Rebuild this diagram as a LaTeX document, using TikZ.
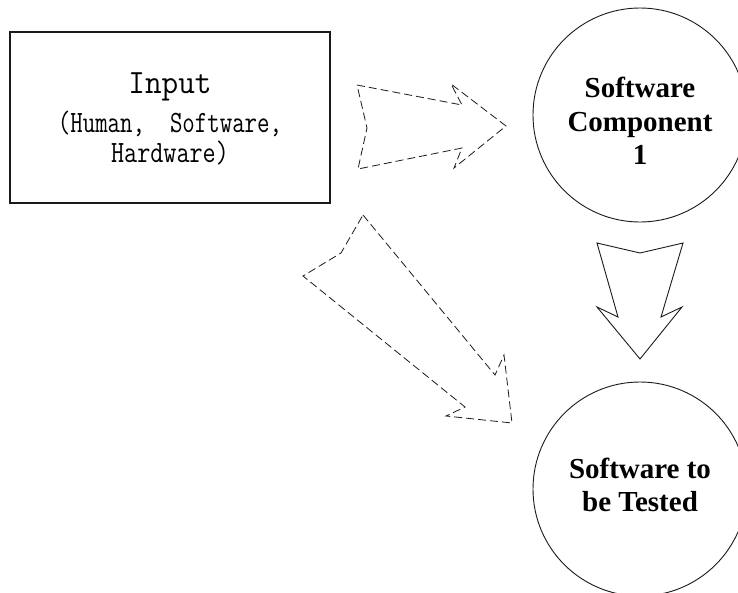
\documentclass[tikz,border=0pt]{standalone}
\usepackage{graphicx}
\usepackage{fontspec}
\setmainfont{Liberation Serif}
\definecolor{mInk}{HTML}{1A1A1A}
\usetikzlibrary{positioning}
\newcommand{\compnode}[4]{%
 \node[draw=mInk, circle, line width=0.9pt, minimum size=214pt, inner sep=0pt] (#2) at (#1) {};%
 \node[align=center, font=\fontsize{29}{33.5}\selectfont\bfseries, text=black] (#2label) at ([yshift=#4]#2.center) {#3};}

\begin{document}
\begin{tikzpicture}[x=1pt, y=-1pt,
 dasharrow/.style={draw=mInk, line width=0.8pt, dash pattern=on 8pt off 4pt, line join=miter},
 solidarrow/.style={draw=mInk, line width=0.9pt, line join=miter}]
\useasboundingbox (0,0) rectangle (738,592);
% input box
\node[draw=mInk, line width=1.2pt, minimum width=320pt, minimum height=171pt, inner sep=0pt] (input) at (170,117.5) {};
\node[anchor=base, inner sep=0pt, font=\ttfamily\fontsize{34}{34}\selectfont] (inputtitle) at (170,93) {\scalebox{0.95}[1]{Input}};
\node[anchor=base, inner sep=0pt, font=\ttfamily\fontsize{31}{31}\selectfont] (inputsub) at (170,132) {\scalebox{0.78}[1]{(Human,\ \ Software,}};
\node[anchor=base, inner sep=0pt, font=\ttfamily\fontsize{31}{31}\selectfont] (inputhw) at (170,162) {\scalebox{0.82}[1]{Hardware)}};
% components
\compnode{640,115}{comp}{Software\\Component\\1}{-6pt}
\compnode{640,489}{sut}{Software to\\be Tested}{4pt}
% block arrows
\draw[dasharrow] (357,85) -- (462,105) -- (451,84) -- (506,126) -- (454,168) -- (462,148) -- (358,169) -- (367,128) -- cycle;
\draw[dasharrow] (363,215) -- (495,375) -- (504,355) -- (512,423) -- (446,416) -- (465,407) -- (303,276) -- (341,253) -- cycle;
\draw[solidarrow] (597,243) -- (640,253) -- (683,243) -- (661,317) -- (682,307) -- (640,359) -- (597,307) -- (618,317) -- cycle;
\end{tikzpicture}
\end{document}
